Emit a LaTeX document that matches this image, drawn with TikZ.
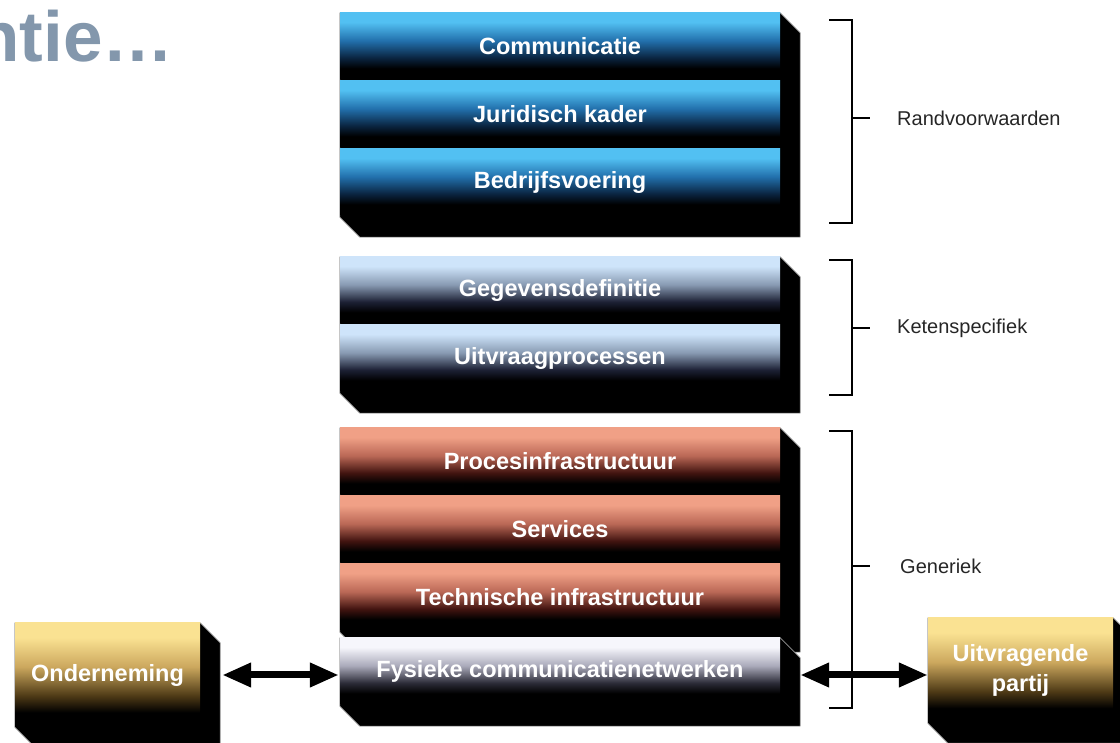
\documentclass[tikz,border=0pt]{standalone}
\usepackage{fontspec}
\setmainfont{Liberation Sans}
\usetikzlibrary{arrows.meta}

\definecolor{titlegrey}{RGB}{131,151,172}
\definecolor{blueTop}{RGB}{82,192,242}
\definecolor{blueMid}{RGB}{34,112,172}
\definecolor{blueDark}{RGB}{10,36,64}
\definecolor{ketTop}{RGB}{206,228,250}
\definecolor{ketMid}{RGB}{136,154,178}
\definecolor{ketDark}{RGB}{28,32,52}
\definecolor{genTop}{RGB}{240,160,134}
\definecolor{genMid}{RGB}{186,104,86}
\definecolor{genDark}{RGB}{66,20,16}
\definecolor{fysTop}{RGB}{246,246,252}
\definecolor{fysMid}{RGB}{170,170,186}
\definecolor{fysDark}{RGB}{44,44,56}
\definecolor{goldTop}{RGB}{250,226,146}
\definecolor{goldMid}{RGB}{204,168,94}
\definecolor{goldDark}{RGB}{78,58,22}

\pgfdeclareverticalshading{layerblue}{100bp}{color(0bp)=(black); color(33bp)=(black); color(41bp)=(blueDark); color(54bp)=(blueMid); color(68bp)=(blueTop); color(100bp)=(blueTop)}
\pgfdeclareverticalshading{layerketen}{100bp}{color(0bp)=(black); color(33bp)=(black); color(41bp)=(ketDark); color(54bp)=(ketMid); color(68bp)=(ketTop); color(100bp)=(ketTop)}
\pgfdeclareverticalshading{layergeneriek}{100bp}{color(0bp)=(black); color(33bp)=(black); color(41bp)=(genDark); color(54bp)=(genMid); color(68bp)=(genTop); color(100bp)=(genTop)}
\pgfdeclareverticalshading{layerfysiek}{100bp}{color(0bp)=(black); color(33bp)=(black); color(41bp)=(fysDark); color(54bp)=(fysMid); color(68bp)=(fysTop); color(100bp)=(fysTop)}
\pgfdeclareverticalshading{actorgold}{100bp}{color(0bp)=(black); color(32bp)=(black); color(40bp)=(goldDark); color(54bp)=(goldMid); color(68bp)=(goldTop); color(100bp)=(goldTop)}

\tikzset{
  layer/.style={rectangle,inner sep=0pt,minimum width=440bp,minimum height=66bp,
    text=white,font=\fontsize{23.5bp}{28bp}\selectfont\bfseries},
  actor/.style={rectangle,inner sep=0pt,minimum width=185bp,minimum height=104bp,
    text=white,align=center,shading=actorgold,
    font=\fontsize{23.5bp}{30bp}\selectfont\bfseries},
  slab/.style={fill=black,draw=black!40,line width=0.6bp},
  layerbracket/.style={draw=black,line width=2.5bp,line join=miter},
  scopelabel/.style={anchor=west,inner sep=0pt,text=black!85,
    font=\fontsize{20bp}{24bp}\selectfont},
  flow/.style={{Triangle[length=29bp,width=23bp]}-{Triangle[length=29bp,width=23bp]},line width=7bp}
}

\begin{document}
\begin{tikzpicture}[>=latex,line join=bevel,]
\clip (0bp,0bp) rectangle (1120bp,743bp);
%%
\node (node_title) at (174bp,681bp) [anchor=base east,inner sep=0pt,text=titlegrey,font=\fontsize{71bp}{80bp}\selectfont\bfseries] {ntie…};
%% randvoorwaarden
\node (node_comm) at (560bp,697bp) [layer,shading=layerblue] {};
  \node (node_jur) at (560bp,629bp) [layer,shading=layerblue] {};
  \node (node_bedr) at (560bp,561bp) [layer,shading=layerblue] {};
  \fill [slab] (node_comm.north west) -- (node_comm.north east) -- ++(20bp,-20bp) -- ([shift={(20bp,-22bp)}]node_bedr.south east) -- ([shift={(20bp,-22bp)}]node_bedr.south west) -- ([yshift=-2bp]node_bedr.south west) -- cycle;
  \node at (node_comm) [layer,shading=layerblue] {Communicatie};
  \node at (node_jur) [layer,shading=layerblue] {Juridisch kader};
  \node at (node_bedr) [layer,shading=layerblue] {Bedrijfsvoering};
%% ketenspecifiek
\node (node_geg) at (560bp,453bp) [layer,shading=layerketen] {};
  \node (node_uitv) at (560bp,385bp) [layer,shading=layerketen] {};
  \fill [slab] (node_geg.north west) -- (node_geg.north east) -- ++(20bp,-20bp) -- ([shift={(20bp,-22bp)}]node_uitv.south east) -- ([shift={(20bp,-22bp)}]node_uitv.south west) -- ([yshift=-2bp]node_uitv.south west) -- cycle;
  \node at (node_geg) [layer,shading=layerketen] {Gegevensdefinitie};
  \node at (node_uitv) [layer,shading=layerketen] {Uitvraagprocessen};
%% generiek
\node (node_proc) at (560bp,282bp) [layer,shading=layergeneriek] {};
  \node (node_serv) at (560bp,214bp) [layer,shading=layergeneriek] {};
  \node (node_tech) at (560bp,146bp) [layer,shading=layergeneriek] {};
  \fill [slab] (node_proc.north west) -- (node_proc.north east) -- ++(20bp,-20bp) -- ([shift={(20bp,-22bp)}]node_tech.south east) -- ([shift={(20bp,-22bp)}]node_tech.south west) -- ([yshift=-2bp]node_tech.south west) -- cycle;
  \node at (node_proc) [layer,shading=layergeneriek] {Procesinfrastructuur};
  \node at (node_serv) [layer,shading=layergeneriek] {Services};
  \node at (node_tech) [layer,shading=layergeneriek] {Technische infrastructuur};
%
\node (node_fys) at (560bp,72bp) [layer,shading=layerfysiek] {};
  \fill [slab] (node_fys.north west) -- (node_fys.north east) -- ++(20bp,-20bp) -- ([shift={(20bp,-22bp)}]node_fys.south east) -- ([shift={(20bp,-22bp)}]node_fys.south west) -- ([yshift=-2bp]node_fys.south west) -- cycle;
  \node at (node_fys) [layer,shading=layerfysiek] {Fysieke communicatienetwerken};
%% partijen
\node (node_org) at (107.5bp,68bp) [actor] {};
  \fill [slab] (node_org.north west) -- (node_org.north east) -- ++(20bp,-20bp) -- ([shift={(20bp,-20bp)}]node_org.south east) -- ([shift={(20bp,-20bp)}]node_org.south west) -- (node_org.south west) -- cycle;
  \node at (node_org) [actor] {Onderneming};
\node (node_party) at (1020.5bp,72.5bp) [actor,minimum height=105bp] {};
  \fill [slab] (node_party.north west) -- (node_party.north east) -- ++(20bp,-20bp) -- ([shift={(20bp,-20bp)}]node_party.south east) -- ([shift={(20bp,-20bp)}]node_party.south west) -- (node_party.south west) -- cycle;
  \node at (node_party) [actor,minimum height=105bp] {Uitvragende\\partij};
%% haken
\draw [layerbracket] (829bp,723bp) -- (852bp,723bp) -- (852bp,520bp) -- (829bp,520bp);
  \draw [layerbracket] (852bp,625bp) -- (870bp,625bp);
  \node (node_rand) at (897bp,625bp) [scopelabel] {Randvoorwaarden};
\draw [layerbracket] (829bp,483bp) -- (852bp,483bp) -- (852bp,348bp) -- (829bp,348bp);
  \draw [layerbracket] (852bp,415bp) -- (870bp,415bp);
  \node (node_keten) at (897bp,415bp) [scopelabel] {Ketenspecifiek};
\draw [layerbracket] (829bp,312bp) -- (852bp,312bp) -- (852bp,35bp) -- (829bp,35bp);
  \draw [layerbracket] (852bp,177bp) -- (870bp,177bp);
  \node (node_gen) at (900bp,177bp) [scopelabel] {Generiek};
%% pijlen
\draw [flow,shorten <=22bp,shorten >=1bp] (node_org.east) -- (node_org.east -| node_fys.west);
  \draw [flow,shorten <=20bp] (node_fys.east |- node_org.east) -- (node_org.east -| node_party.west);
%
\end{tikzpicture}
\end{document}
